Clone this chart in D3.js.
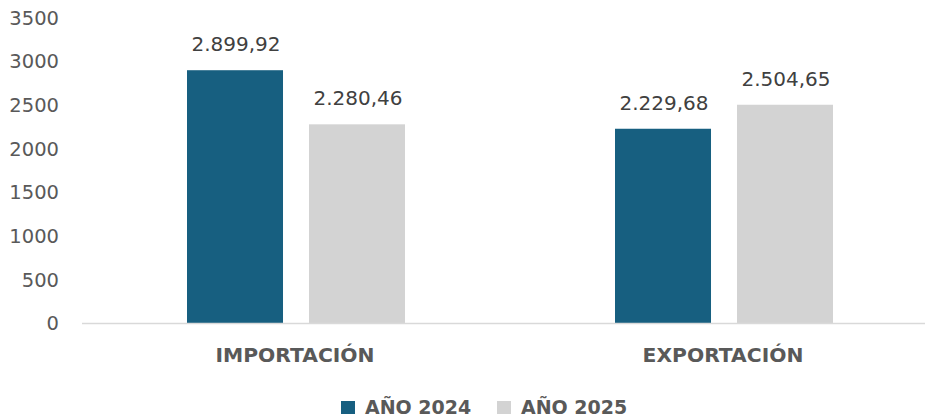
<!DOCTYPE html>
<html>
<head>
<meta charset="utf-8">
<script src="https://cdn.jsdelivr.net/npm/d3@7"></script>
<style>
  html, body { margin: 0; padding: 0; background: #ffffff; }
  svg { display: block; }
</style>
</head>
<body>
<svg id="chart" width="925" height="419"></svg>
<script>
const categories = ["IMPORTACIÓN", "EXPORTACIÓN"];
const seriesNames = ["AÑO 2024", "AÑO 2025"];
const values2024 = [2899.92, 2229.68];
const values2025 = [2280.46, 2504.65];
const valueLabels2024 = ["2.899,92", "2.229,68"];
const valueLabels2025 = ["2.280,46", "2.504,65"];
const yTicks = [0, 500, 1000, 1500, 2000, 2500, 3000, 3500];
const colors = ["#175F80", "#D3D3D3"];

const svg = d3.select("#chart");
const font = "'DejaVu Sans', sans-serif";

const y = d3.scaleLinear().domain([0, 3500]).range([323.5, 17.8]);
const x = d3.scaleBand().domain(categories).range([82, 938]).padding(0);
const xSub = d3.scaleBand().domain(seriesNames).range([-109, 109]).paddingInner(0.213).paddingOuter(0);

const data = [];
categories.forEach((c, i) => {
  data.push({cat: c, s: seriesNames[0], v: values2024[i], lbl: valueLabels2024[i], col: colors[0]});
  data.push({cat: c, s: seriesNames[1], v: values2025[i], lbl: valueLabels2025[i], col: colors[1]});
});

// y axis labels
const yAxis = d3.axisLeft(y).tickValues(yTicks).tickSize(0).tickPadding(23).tickFormat(d3.format("d"));
const gy = svg.append("g").attr("transform", "translate(82,0)").call(yAxis);
gy.select(".domain").remove();
gy.selectAll("text")
  .attr("font-family", font)
  .attr("font-size", "19.5px")
  .attr("fill", "#595959");

// bars
const cx = c => x(c) + x.bandwidth() / 2;
svg.append("g").selectAll("rect").data(data).enter().append("rect")
  .attr("x", d => cx(d.cat) + xSub(d.s))
  .attr("width", xSub.bandwidth())
  .attr("y", d => y(d.v))
  .attr("height", d => y(0) - y(d.v))
  .attr("fill", d => d.col);

// axis line
svg.append("line")
  .attr("x1", 82).attr("x2", 938)
  .attr("y1", y(0)).attr("y2", y(0))
  .attr("stroke", "#D9D9D9").attr("stroke-width", 1.6);

// value labels
svg.append("g").selectAll("text").data(data).enter().append("text")
  .attr("x", d => cx(d.cat) + xSub(d.s) + xSub.bandwidth() / 2 + 1)
  .attr("y", d => y(d.v) - 19)
  .attr("text-anchor", "middle")
  .attr("font-family", font)
  .attr("font-size", "20px")
  .attr("fill", "#404040")
  .text(d => d.lbl);

// category labels
svg.append("g").selectAll("text").data(categories).enter().append("text")
  .attr("x", d => cx(d) - 1)
  .attr("y", 362)
  .attr("text-anchor", "middle")
  .attr("font-family", font)
  .attr("font-weight", "bold")
  .attr("font-size", "20.3px")
  .attr("fill", "#595959")
  .text(d => d);

// legend
const legendX = [341, 497];
const lg = svg.append("g");
seriesNames.forEach((s, i) => {
  lg.append("rect")
    .attr("x", legendX[i]).attr("y", 401)
    .attr("width", 14).attr("height", 13)
    .attr("fill", colors[i]);
  lg.append("text")
    .attr("x", legendX[i] + 24).attr("y", 414)
    .attr("font-family", font)
    .attr("font-weight", "bold")
    .attr("font-size", "19px")
    .attr("fill", "#595959")
    .text(s);
});
</script>
</body>
</html>
